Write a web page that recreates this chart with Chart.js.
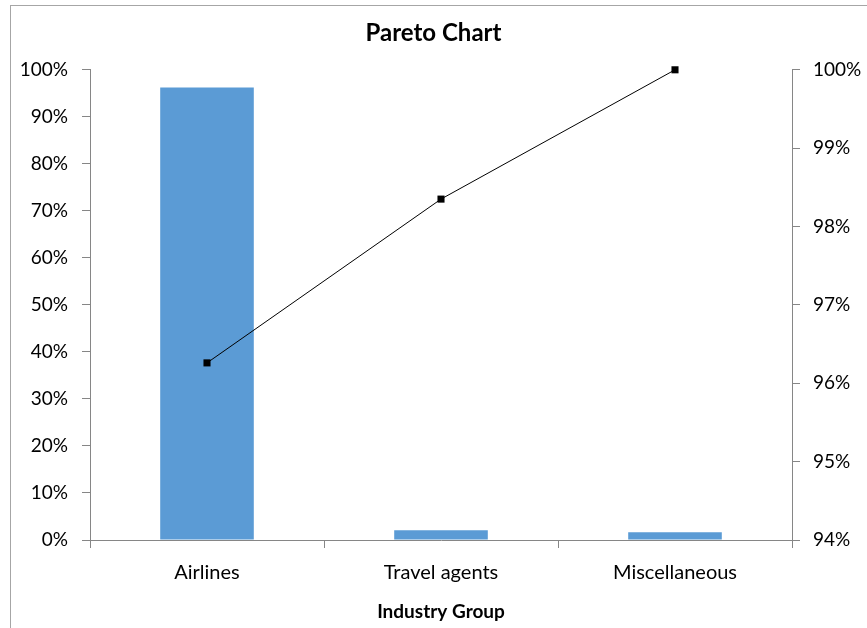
<!DOCTYPE html>
<html>
<head>
<meta charset="utf-8">
<script src="https://cdn.jsdelivr.net/npm/chart.js@4"></script>
<style>
html,body{margin:0;padding:0;background:#fff;}
#c{display:block;}
</style>
</head>
<body>
<canvas id="c" width="867" height="628"></canvas>
<script>
const categories = ["Airlines", "Travel agents", "Miscellaneous"];
const shareValues = [96.26, 2.09, 1.65];
const cumulativeValues = [96.26, 98.35, 100];
const leftTicks = [0, 10, 20, 30, 40, 50, 60, 70, 80, 90, 100];
const rightTicks = [94, 95, 96, 97, 98, 99, 100];

const FONT = "Lato, 'Open Sans', sans-serif";
const AXIS = "#868686";

const framePlugin = {
  id: 'frame',
  beforeDraw(chart) {
    const ctx = chart.ctx;
    ctx.save();
    ctx.fillStyle = '#fff';
    ctx.fillRect(0, 0, chart.width, chart.height);
    ctx.strokeStyle = '#a6a6a6';
    ctx.lineWidth = 1;
    ctx.strokeRect(10.5, 5.5, 1000, 1000);
    ctx.restore();
  }
};

new Chart(document.getElementById('c'), {
  type: 'bar',
  data: {
    labels: categories,
    datasets: [
      {
        type: 'line',
        data: cumulativeValues,
        yAxisID: 'y1',
        borderColor: '#000',
        borderWidth: 1,
        pointStyle: 'rect',
        pointRadius: 5,
        pointBackgroundColor: '#000',
        pointBorderColor: '#000',
        pointBorderWidth: 0,
        tension: 0,
        clip: false,
        order: 0
      },
      {
        type: 'bar',
        data: shareValues,
        yAxisID: 'y',
        backgroundColor: '#5B9BD5',
        borderWidth: 0,
        categoryPercentage: 1,
        barPercentage: 0.4,
        order: 1
      }
    ]
  },
  options: {
    responsive: false,
    animation: false,
    layout: { padding: 0 },
    plugins: {
      legend: { display: false },
      tooltip: { enabled: false },
      title: {
        display: true,
        text: 'Pareto Chart',
        color: '#000',
        font: { family: FONT, size: 24, weight: 'bold' },
        padding: { top: 19, bottom: 22 }
      }
    },
    scales: {
      x: {
        offset: true,
        grid: { display: true, drawOnChartArea: false, offset: true, tickLength: 8, color: AXIS },
        border: { display: true, color: AXIS },
        ticks: { color: '#000', font: { family: FONT, size: 20 }, padding: 13, maxRotation: 0 },
        title: { display: true, text: 'Industry Group', color: '#000', font: { family: FONT, size: 19, weight: 'bold' }, padding: { top: 0, bottom: 5 } },
        afterFit(s) { s.height = 88; }
      },
      y: {
        position: 'left',
        min: 0, max: 100,
        afterBuildTicks(s) { s.ticks = leftTicks.map(v => ({ value: v })); },
        grid: { display: true, drawOnChartArea: false, tickLength: 8, color: AXIS },
        border: { display: true, color: AXIS },
        ticks: { color: '#000', font: { family: FONT, size: 19 }, padding: 14, callback: v => v + '%' },
        afterFit(s) { s.width = 90; }
      },
      y1: {
        position: 'right',
        min: 94, max: 100,
        afterBuildTicks(s) { s.ticks = rightTicks.map(v => ({ value: v })); },
        grid: { display: true, drawOnChartArea: false, tickLength: 8, color: AXIS },
        border: { display: true, color: AXIS },
        ticks: { color: '#000', font: { family: FONT, size: 19 }, padding: 13, callback: v => v + '%' },
        afterFit(s) { s.width = 75; }
      }
    }
  },
  plugins: [framePlugin]
});
</script>
</body>
</html>
